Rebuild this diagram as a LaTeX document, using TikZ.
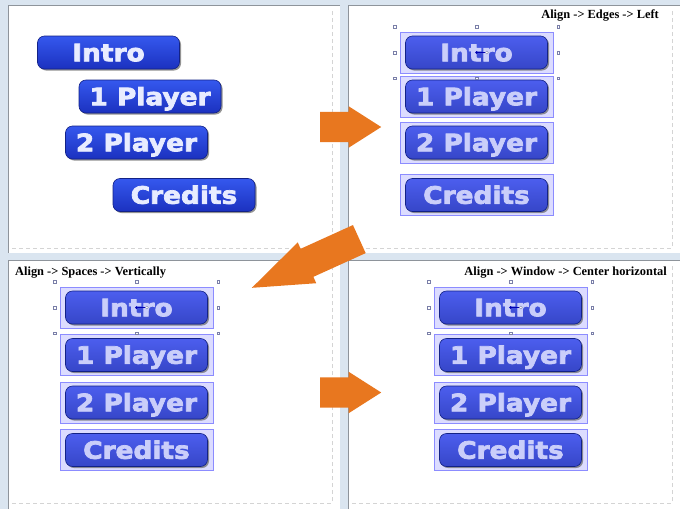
\documentclass[tikz,border=0pt]{standalone}
\usepackage{fontspec}
\setmainfont{Liberation Serif}
\newfontfamily\btnfont[FakeStretch=1.1,FakeBold=3]{DejaVu Sans Bold}
\usetikzlibrary{positioning,shapes.arrows,shadows}
\definecolor{bgblue}{HTML}{DAE5F0}
\definecolor{framegray}{HTML}{8E949B}
\definecolor{dashgray}{HTML}{D4D4D4}
\definecolor{btntop}{HTML}{3558EE}
\definecolor{btnbot}{HTML}{1B31BF}
\definecolor{btntext}{HTML}{E8ECFF}
\definecolor{seltop}{HTML}{4C5EEE}
\definecolor{selbot}{HTML}{3646C8}
\definecolor{seltext}{HTML}{CACEFA}
\definecolor{boxfill}{HTML}{DCDCFF}
\definecolor{boxline}{HTML}{8C8CFF}
\definecolor{handlegray}{HTML}{7A7FA8}
\definecolor{arroworange}{HTML}{E8771F}
\begin{document}
\begin{tikzpicture}[x=1pt,y=-1pt,
  btn/.style={rectangle, rounded corners=7pt, minimum width=142pt, minimum height=33pt, inner sep=0pt,
    top color=btntop, bottom color=btnbot, draw=btnbot!70!black, line width=0.6pt, text=btntext,
    font=\btnfont\fontsize{24}{24}\selectfont, text height=17.5pt, text depth=0pt,
    drop shadow={shadow xshift=1.5pt, shadow yshift=-1.5pt, fill=black!60, opacity=.7}},
  selbtn/.style={btn, top color=seltop, bottom color=selbot, text=seltext},
  selbox/.style={draw=boxline, fill=boxfill, line width=0.8pt, minimum width=153pt, minimum height=41pt, inner sep=0pt},
  selframe/.style={minimum width=163pt, minimum height=51pt, inner sep=0pt},
  handle/.style={draw=handlegray, fill=white, line width=0.4pt, minimum size=2.6pt, inner sep=0pt},
  pivot/.style={circle, fill=blue!70!black, minimum size=3pt, inner sep=0pt},
  pivring/.style={circle, draw=handlegray, fill=white, line width=0.4pt, minimum size=3pt, inner sep=0pt},
  caption/.style={font=\bfseries\fontsize{12.4}{14}\selectfont, inner sep=0pt},
  bigarrow/.style={single arrow, fill=arroworange, inner xsep=0pt, inner ysep=15pt, single arrow head indent=0pt, anchor=tail}]
\useasboundingbox (0,0) rectangle (680,509);
% window background and the four panels
\fill[bgblue] (0,0) rectangle (680,509);
\fill[white] (8,5) rectangle (340,253);
\fill[white] (348,5) rectangle (680,253);
\fill[white] (8,260) rectangle (340,509);
\fill[white] (348,260) rectangle (680,509);
\draw[framegray] (8,253) -- (8,5) -- (340,5);
\draw[framegray] (348,253) -- (348,5) -- (680,5);
\draw[framegray] (8,509) -- (8,260) -- (340,260);
\draw[framegray] (348,509) -- (348,260) -- (680,260);
\draw[dashgray, dash pattern=on 4pt off 3pt] (12,248) -- (332,248) -- (332,9);
\draw[dashgray, dash pattern=on 4pt off 3pt] (352,248) -- (672,248) -- (672,9);
\draw[dashgray, dash pattern=on 4pt off 3pt] (12,503) -- (332,503) -- (332,264);
\draw[dashgray, dash pattern=on 4pt off 3pt] (352,503) -- (672,503) -- (672,264);
% panel 1: loose buttons
\node[btn] (intro1) at (108.5,52.5) {Intro};
\node[btn] (one1) at (150,96.5) {1 Player};
\node[btn] (two1) at (136.5,142.5) {2 Player};
\node[btn] (cred1) at (184,195) {Credits};
% panel 2: Edges -> Left
\node[caption, anchor=base east] (cap2) at (659,18.5) {Align -> Edges -> Left};
\node[selbox] (bintro2) at (476.5,52.5) {};
\node[selbox] (bone2) at (476.5,96.5) {};
\node[selbox] (btwo2) at (476.5,142.5) {};
\node[selbox] (bcred2) at (476.5,195) {};
\node[selbtn] (intro2) at (bintro2) {Intro};
\node[selbtn] (one2) at (bone2) {1 Player};
\node[selbtn] (two2) at (btwo2) {2 Player};
\node[selbtn] (cred2) at (bcred2) {Credits};
\node[selframe] (frame2) at (bintro2) {};
\foreach \a in {north west,north,north east,west,east,south west,south,south east}
  \node[handle] at (frame2.\a) {};
\node[pivot] (piv2) at (bintro2) {};
\node[pivring, right=7pt of piv2] (ring2) {};
\draw[blue!70!black, line width=0.5pt] (piv2) -- (ring2);
% panel 3: Spaces -> Vertically
\node[caption, anchor=base west] (cap3) at (15,275.5) {Align -> Spaces -> Vertically};
\node[selbox] (bintro3) at (136.5,307.5) {};
\node[selbox] (bone3) at (136.5,355) {};
\node[selbox] (btwo3) at (136.5,402.5) {};
\node[selbox] (bcred3) at (136.5,450) {};
\node[selbtn] (intro3) at (bintro3) {Intro};
\node[selbtn] (one3) at (bone3) {1 Player};
\node[selbtn] (two3) at (btwo3) {2 Player};
\node[selbtn] (cred3) at (bcred3) {Credits};
\node[selframe] (frame3) at (bintro3) {};
\foreach \a in {north west,north,north east,west,east,south west,south,south east}
  \node[handle] at (frame3.\a) {};
\node[pivot] (piv3) at (bintro3) {};
\node[pivring, right=7pt of piv3] (ring3) {};
\draw[blue!70!black, line width=0.5pt] (piv3) -- (ring3);
% panel 4: Window -> Center horizontal
\node[caption, anchor=base east] (cap4) at (667,275.5) {Align -> Window -> Center horizontal};
\node[selbox] (bintro4) at (510.5,307.5) {};
\node[selbox] (bone4) at (510.5,355) {};
\node[selbox] (btwo4) at (510.5,402.5) {};
\node[selbox] (bcred4) at (510.5,450) {};
\node[selbtn] (intro4) at (bintro4) {Intro};
\node[selbtn] (one4) at (bone4) {1 Player};
\node[selbtn] (two4) at (btwo4) {2 Player};
\node[selbtn] (cred4) at (bcred4) {Credits};
\node[selframe] (frame4) at (bintro4) {};
\foreach \a in {north west,north,north east,west,east,south west,south,south east}
  \node[handle] at (frame4.\a) {};
\node[pivot] (piv4) at (bintro4) {};
\node[pivring, right=7pt of piv4] (ring4) {};
\draw[blue!70!black, line width=0.5pt] (piv4) -- (ring4);
% orange step arrows
\node[bigarrow, minimum height=61pt, minimum width=41pt, single arrow head extend=5.5pt, single arrow tip angle=65] (arrA) at (320,127) {};
\node[bigarrow, inner ysep=15.2pt, minimum height=118pt, minimum width=44.4pt, single arrow head extend=7pt, single arrow tip angle=40.6, rotate=204.4] (arrB) at (359.5,239) {};
\node[bigarrow, minimum height=61pt, minimum width=41pt, single arrow head extend=5.5pt, single arrow tip angle=65] (arrC) at (320,392.5) {};
\end{tikzpicture}
\end{document}
